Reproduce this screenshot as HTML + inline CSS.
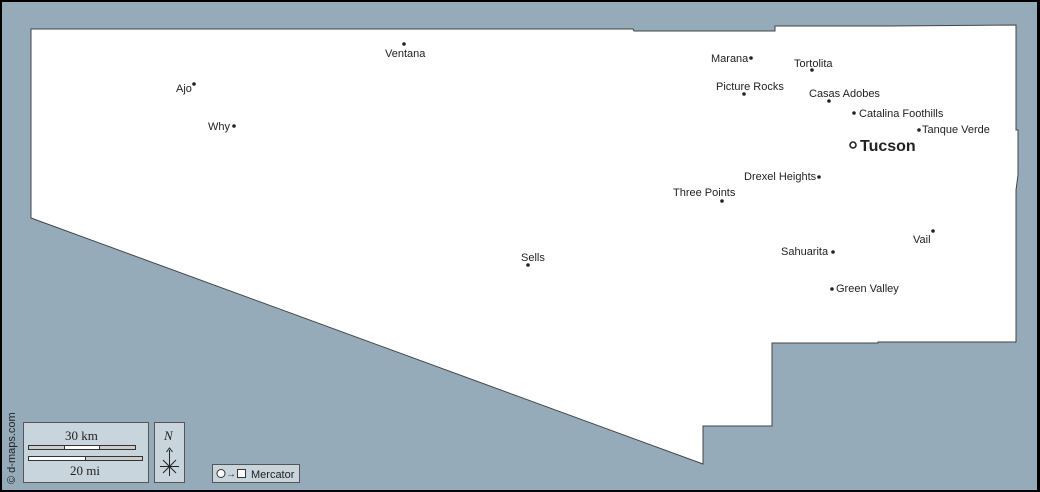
<!DOCTYPE html>
<html><head><meta charset="utf-8"><style>
html,body{margin:0;padding:0;background:#000;}
svg{display:block}
text{font-family:"Liberation Sans",sans-serif;font-size:11px;fill:#222}
</style></head><body>
<svg width="1040" height="492" viewBox="0 0 1040 492">
<rect x="0" y="0" width="1040" height="492" fill="#000"/>
<rect x="2" y="2" width="1035" height="488" fill="#95abba"/>
<polygon points="31,29 633,29 634,31 775,31 775,26 882,26 1016,25 1016,130 1018,130 1018,175 1016,190 1016,342 878,342 878,343 772,343 772,426 703,426 703,464 31,218" fill="#fff" stroke="#444" stroke-width="1"/>
<g fill="#222">
<circle cx="404" cy="44" r="1.8"/><circle cx="194" cy="84" r="1.8"/><circle cx="234" cy="126" r="1.8"/>
<circle cx="751" cy="58" r="1.8"/><circle cx="812" cy="70" r="1.8"/><circle cx="744" cy="94" r="1.8"/>
<circle cx="829" cy="101" r="1.8"/><circle cx="854" cy="113" r="1.8"/><circle cx="919" cy="130" r="1.8"/>
<circle cx="819" cy="177" r="1.8"/><circle cx="722" cy="201" r="1.8"/><circle cx="933" cy="231" r="1.8"/>
<circle cx="833" cy="252" r="1.8"/><circle cx="832" cy="289" r="1.8"/><circle cx="528" cy="265" r="1.8"/>
</g>
<circle cx="853" cy="145" r="3" fill="none" stroke="#222" stroke-width="1.6"/>
<text x="385" y="57">Ventana</text>
<text x="176" y="92">Ajo</text>
<text x="208" y="130">Why</text>
<text x="711" y="62">Marana</text>
<text x="794" y="67">Tortolita</text>
<text x="716" y="90">Picture Rocks</text>
<text x="809" y="97">Casas Adobes</text>
<text x="859" y="117">Catalina Foothills</text>
<text x="922" y="133">Tanque Verde</text>
<text x="860" y="151" style="font-size:16px;font-weight:bold">Tucson</text>
<text x="744" y="180">Drexel Heights</text>
<text x="673" y="196">Three Points</text>
<text x="913" y="243">Vail</text>
<text x="781" y="255">Sahuarita</text>
<text x="836" y="292">Green Valley</text>
<text x="521" y="261">Sells</text>
<!-- scale -->
<rect x="23.5" y="422.5" width="125" height="60" fill="#c8d5dd" stroke="#555"/>
<text x="65" y="440" style="font-family:'Liberation Serif',serif;font-size:13px">30 km</text>
<rect x="28.5" y="445.5" width="107" height="4" fill="#ccc" stroke="#333"/>
<rect x="64.5" y="445.5" width="35" height="4" fill="#fff" stroke="#333"/>
<rect x="28.5" y="456.5" width="114" height="4" fill="#ccc" stroke="#333"/>
<rect x="28.5" y="456.5" width="57" height="4" fill="#fff" stroke="#333"/>
<text x="70" y="475" style="font-family:'Liberation Serif',serif;font-size:13px">20 mi</text>
<rect x="154.5" y="422.5" width="30" height="60" fill="#c8d5dd" stroke="#555"/>
<text x="164" y="440" style="font-family:'Liberation Serif',serif;font-style:italic;font-size:13px">N</text>
<path d="M169.5 450 V476 M160 466.5 H179 M163 460 L176 473 M176 460 L163 473 M166.5 452 L169.5 448 L172.5 452" stroke="#222" fill="none" stroke-width="1"/>
<rect x="212.5" y="464.5" width="87" height="18" fill="#c8d5dd" stroke="#555"/>
<circle cx="221" cy="473.5" r="4" fill="#fff" stroke="#333"/>
<text x="226" y="477" style="font-size:10px">→</text>
<rect x="237.5" y="469.5" width="8" height="8" fill="#fff" stroke="#333"/>
<text x="251" y="478">Mercator</text>
<text transform="translate(15,484) rotate(-90)" style="font-size:11px">© d-maps.com</text>
</svg>
</body></html>
